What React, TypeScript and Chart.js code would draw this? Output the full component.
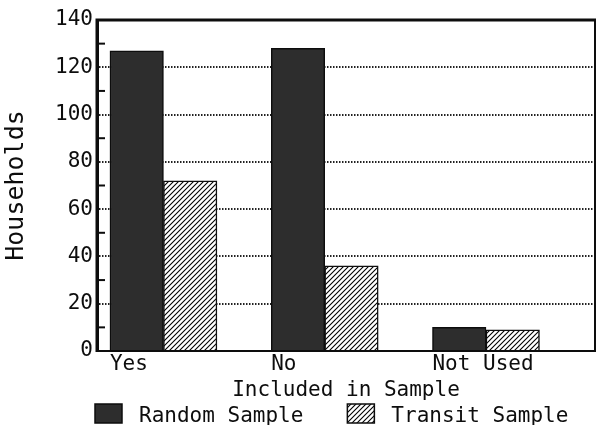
import React, { useEffect, useRef } from 'react';
import { Chart, registerables } from 'chart.js';

Chart.register(...registerables);

const categories = ['Yes', 'No', 'Not Used'];
const randomSample = [127, 128, 10];
const transitSample = [72, 36, 9];
const seriesNames = ['Random Sample', 'Transit Sample'];
const xTitle = 'Included in Sample';
const yTitle = 'Households';
const yMax = 140;
const yMinorStep = 10;
const yMajorStep = 20;

const FONT = '"DejaVu Sans Mono", "Liberation Mono", monospace';
const WEIGHT = 'normal';
const INK = '#0d0d0d';
const DARK = '#2d2d2d';

function makeHatch(ctx: CanvasRenderingContext2D): CanvasPattern | string {
  const s = 5;
  const c = document.createElement('canvas');
  c.width = s;
  c.height = s;
  const g = c.getContext('2d');
  if (!g) return '#fff';
  g.fillStyle = '#ffffff';
  g.fillRect(0, 0, s, s);
  g.strokeStyle = '#000000';
  g.lineWidth = 1.1;
  g.beginPath();
  g.moveTo(-1, s + 1);
  g.lineTo(s + 1, -1);
  g.moveTo(-1, 1);
  g.lineTo(1, -1);
  g.moveTo(s - 1, s + 1);
  g.lineTo(s + 1, s - 1);
  g.stroke();
  return ctx.createPattern(c, 'repeat') || '#fff';
}

const framePlugin = {
  id: 'frame',
  afterDatasetsDraw(chart: any) {
    const { ctx, chartArea } = chart;
    const { left, right, top, bottom } = chartArea;
    const y = chart.scales.y;
    ctx.save();
    ctx.strokeStyle = INK;
    ctx.lineWidth = 2;
    y.ticks.forEach((t: any) => {
      if (t.value % yMajorStep !== 0) {
        const py = y.getPixelForValue(t.value);
        ctx.beginPath();
        ctx.moveTo(left, py);
        ctx.lineTo(left + 8, py);
        ctx.stroke();
      }
    });
    ctx.lineWidth = 2;
    ctx.beginPath();
    ctx.moveTo(left, bottom);
    ctx.lineTo(right, bottom);
    ctx.moveTo(right, top);
    ctx.lineTo(right, bottom + 1);
    ctx.stroke();
    ctx.lineWidth = 3;
    ctx.beginPath();
    ctx.moveTo(left, bottom + 1);
    ctx.lineTo(left, top);
    ctx.lineTo(right + 1, top);
    ctx.stroke();
    ctx.restore();
  },
};

const legendPlugin = {
  id: 'customLegend',
  afterDraw(chart: any) {
    const { ctx, chartArea } = chart;
    const boxW = 27;
    const boxH = 19;
    const boxTop = 404;
    const baseline = 422;
    let x = chartArea.left - 2;
    ctx.save();
    ctx.font = `${WEIGHT} 21px ${FONT}`;
    ctx.textBaseline = 'alphabetic';
    ctx.textAlign = 'left';
    chart.data.datasets.forEach((ds: any) => {
      ctx.fillStyle = ds.backgroundColor;
      ctx.fillRect(x, boxTop, boxW, boxH);
      ctx.strokeStyle = INK;
      ctx.lineWidth = 1.5;
      ctx.strokeRect(x, boxTop, boxW, boxH);
      const tx = x + boxW + 17;
      ctx.fillStyle = INK;
      ctx.fillText(ds.label, tx, baseline);
      x = tx + ctx.measureText(ds.label).width + 44;
    });
    ctx.restore();
  },
};

export default function App() {
  const canvasRef = useRef<HTMLCanvasElement | null>(null);

  useEffect(() => {
    document.body.style.margin = '0';
    const canvas = canvasRef.current;
    if (!canvas) return;
    const ctx = canvas.getContext('2d');
    if (!ctx) return;
    const hatch = makeHatch(ctx);

    Chart.defaults.color = INK;

    const chart = new Chart(ctx, {
      type: 'bar',
      data: {
        datasets: [
          {
            label: seriesNames[0],
            data: randomSample.map((v, i) => ({ x: i + 1, y: v })),
            backgroundColor: DARK,
            borderColor: INK,
            borderWidth: 1.5,
            barThickness: 53.5,
          },
          {
            label: seriesNames[1],
            data: transitSample.map((v, i) => ({ x: i + 1, y: v })),
            backgroundColor: hatch as any,
            borderColor: INK,
            borderWidth: 1.5,
            barThickness: 53.5,
          },
        ],
      },
      options: {
        responsive: false,
        animation: false,
        events: [],
        layout: { padding: { top: 20, right: 2, left: 0, bottom: 0 } },
        plugins: {
          legend: { display: false },
          tooltip: { enabled: false },
        },
        scales: {
          x: {
            type: 'linear',
            offset: false,
            bounds: 'data',
            min: 0.588,
            max: 3.676,
            afterBuildTicks: (scale: any) => {
              scale.ticks = categories.map((_, i) => ({ value: i + 1 }));
            },
            afterFit: (scale: any) => {
              scale.height = 74;
            },
            ticks: {
              align: 'start',
              labelOffset: -53.5,
              padding: 1,
              autoSkip: false,
              maxRotation: 0,
              color: INK,
              font: { family: FONT, size: 21, weight: WEIGHT },
              callback: (v: any) => categories[Math.round(Number(v)) - 1] ?? '',
            },
            grid: { display: false, drawTicks: false, offset: false },
            border: { display: true, color: INK, width: 2 },
            title: {
              display: true,
              text: xTitle,
              color: INK,
              font: { family: FONT, size: 21, lineHeight: 1.2, weight: WEIGHT },
              padding: { top: 0, bottom: 22 },
            },
          },
          y: {
            min: 0,
            max: yMax,
            afterFit: (scale: any) => {
              scale.width = 97;
            },
            ticks: {
              stepSize: yMinorStep,
              padding: 4,
              autoSkip: false,
              color: INK,
              font: { family: FONT, size: 21, weight: WEIGHT },
              callback: (v: any) => (Number(v) % yMajorStep === 0 ? String(v) : ''),
            },
            grid: {
              drawTicks: false,
              lineWidth: 2,
              color: (c: any) => {
                const v = c.tick ? c.tick.value : 0;
                return v % yMajorStep === 0 && v > 0 && v < yMax ? '#222222' : 'rgba(0,0,0,0)';
              },
            },
            border: { display: true, color: INK, width: 3, dash: [1.5, 1.5] },
            title: {
              display: true,
              text: yTitle,
              color: INK,
              font: { family: FONT, size: 25, lineHeight: 1.2, weight: WEIGHT },
              padding: { top: 1, bottom: 0 },
            },
          },
        },
      },
      plugins: [framePlugin, legendPlugin],
    } as any);

    return () => chart.destroy();
  }, []);

  return (
    <div style={{ width: 597, height: 425 }}>
      <canvas ref={canvasRef} width={597} height={425} style={{ display: 'block' }} />
    </div>
  );
}
